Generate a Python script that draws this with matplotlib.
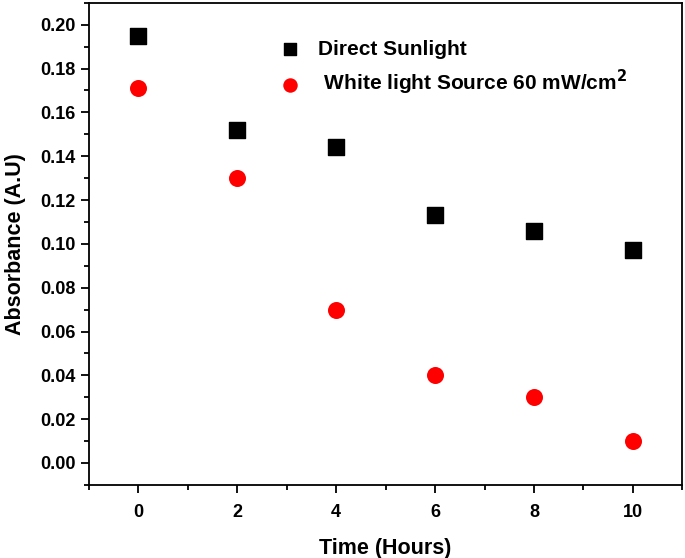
import matplotlib
matplotlib.use("Agg")
import matplotlib.pyplot as plt
from matplotlib.ticker import MultipleLocator

# ── Data ──────────────────────────────────────────────────────────────────────
hours     = [0, 2, 4, 6, 8, 10]
sunlight  = [0.195, 0.152, 0.144, 0.113, 0.106, 0.097]
white_src = [0.171, 0.130, 0.070, 0.040, 0.030, 0.010]
yticks    = [0.00, 0.02, 0.04, 0.06, 0.08, 0.10, 0.12, 0.14, 0.16, 0.18, 0.20]

plt.rcParams.update({
    "font.family": "Liberation Sans",
    "font.weight": "bold",
    "axes.linewidth": 1.3,
})

fig = plt.figure(figsize=(6.85, 5.58), dpi=100)
ax = fig.add_axes([0.130, 0.131, 0.866, 0.864])

ax.scatter(hours, sunlight, marker="s", s=120, color="black", label="Direct Sunlight")
ax.scatter(hours, white_src, marker="o", s=150, color="#ff0000", linewidths=0,
           label=" White light Source 60 mW/cm$^\\mathbf{2}$")

ax.set_xlim(-1, 11)
ax.set_ylim(-0.01, 0.21)
ax.xaxis.set_major_locator(MultipleLocator(2))
ax.xaxis.set_minor_locator(MultipleLocator(1))
ax.yaxis.set_minor_locator(MultipleLocator(0.01))
ax.set_yticks(yticks)
ax.set_yticklabels([f"{v:.2f}" for v in yticks])

ax.tick_params(which="both", direction="out", width=1.3, labelsize=13)
ax.tick_params(which="major", length=6)
ax.tick_params(which="minor", length=3.5)
ax.tick_params(axis="x", pad=8)
for lbl in ax.get_xticklabels() + ax.get_yticklabels():
    lbl.set_fontweight("bold")

ax.set_xlabel("Time (Hours)", fontsize=15.5, fontweight="bold", labelpad=12)
ax.set_ylabel("Absorbance (A.U)", fontsize=15.5, fontweight="bold", labelpad=10)

ax.legend(loc="upper left", bbox_to_anchor=(0.272, 0.962), frameon=False,
          prop={"weight": "bold", "size": 15}, handletextpad=0.35,
          labelspacing=0.45, markerscale=0.85)

fig.savefig("out.png", dpi=100)
